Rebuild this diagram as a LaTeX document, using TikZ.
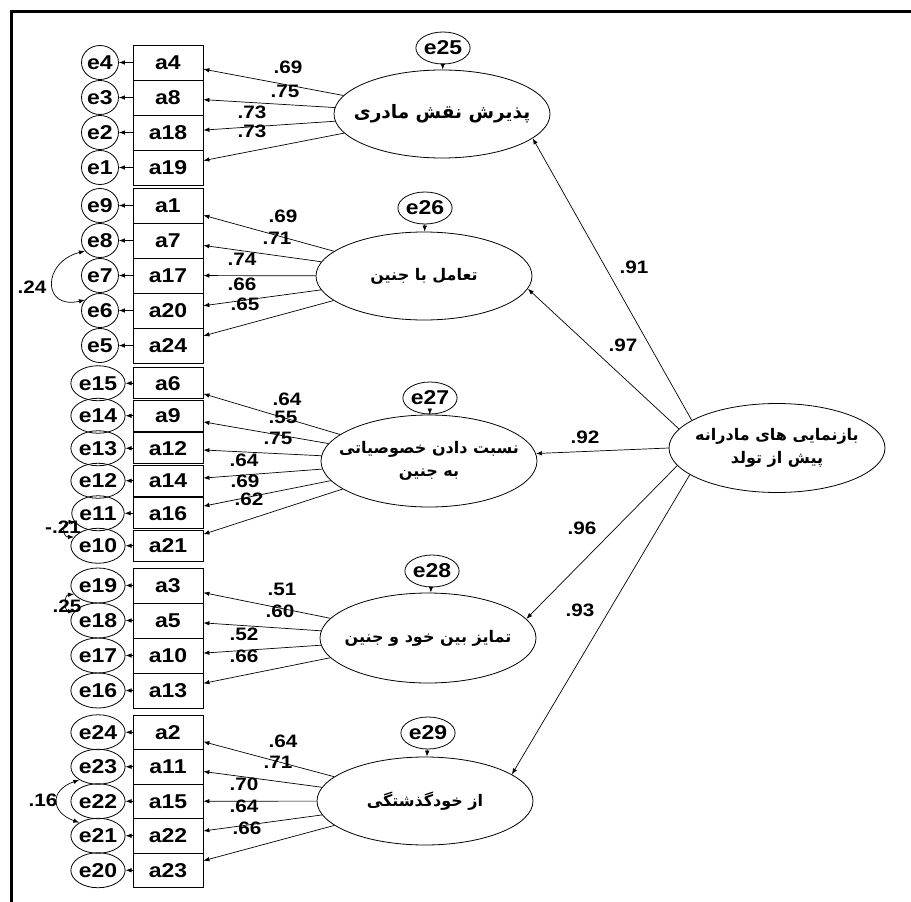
\documentclass[tikz,border=0pt]{standalone}
\usepackage{fontspec}
\usetikzlibrary{arrows.meta,shapes.geometric}
\TeXXeTstate=1
\newfontfamily\labfont[FakeStretch=1.15]{Liberation Sans}
\newfontfamily\fafont[Script=Arabic]{DejaVu Sans}
\begin{document}
\begin{tikzpicture}[x=1pt,y=-1pt,
  obs/.style={draw, rectangle, minimum width=70pt, minimum height=35pt, inner sep=0pt, line width=0.8pt,
    font=\labfont\bfseries\fontsize{20}{20}\selectfont},
  obsb/.style={obs, minimum height=31pt},
  err/.style={draw, ellipse, minimum width=37pt, minimum height=34pt, inner sep=0pt, line width=0.8pt,
    font=\labfont\bfseries\fontsize{20}{20}\selectfont},
  errb/.style={err, minimum width=39pt, minimum height=35pt},
  res/.style={draw, ellipse, minimum width=40pt, minimum height=32pt, inner sep=0pt, line width=0.8pt,
    font=\labfont\bfseries\fontsize{20}{20}\selectfont},
  lat/.style={draw, ellipse, minimum width=216pt, minimum height=88pt, inner sep=0pt, line width=0.8pt},
  fatext/.style={inner sep=0pt, align=center, font=\fafont\bfseries\fontsize{16}{23}\selectfont},
  fabig/.style={fatext, font=\fafont\bfseries\fontsize{18.5}{23}\selectfont},
  coef/.style={inner sep=0pt, font=\labfont\bfseries\fontsize{18}{18}\selectfont},
  arr/.style={-{Latex[length=6pt,width=4.5pt]}, line width=0.7pt},
  cov/.style={{Latex[length=6pt,width=4.5pt]}-{Latex[length=6pt,width=4.5pt]}, line width=0.7pt}
]
\fill[white] (0,0) rectangle (911,902);
\useasboundingbox (0,0) rectangle (911,902);
\draw[line width=3pt] (911,11.5) -- (11.5,11.5) -- (11.5,902);

% latent factors
\node[lat, label={[fabig]center:\beginR پذیرش نقش مادری\endR}] (F1) at (442,114) {};
\node[lat, label={[fatext]center:\beginR تعامل با جنین\endR}] (F2) at (424,276) {};
\node[lat, minimum height=92pt, label={[fatext]center:\beginR نسبت دادن خصوصیاتی\endR\\\beginR به جنین\endR}] (F3) at (429,461) {};
\node[lat, minimum height=90pt, label={[fatext]center:\beginR تمایز بین خود و جنین\endR}] (F4) at (428,638) {};
\node[lat, label={[fatext]center:\beginR از خودگذشتگی\endR}] (F5) at (425,801) {};
\node[lat, minimum height=89pt, label={[fatext]center:\beginR بازنمایی های مادرانه\endR\\\beginR پیش از تولد\endR}] (F0) at (777,448) {};

% residuals of factors
\node[res] (e25) at (443,48) {e25};
\node[res] (e26) at (425,208) {e26};
\node[res] (e27) at (430,398) {e27};
\node[res] (e28) at (432,571) {e28};
\node[res] (e29) at (428,733) {e29};
\foreach \r/\f in {e25/F1,e26/F2,e27/F3,e28/F4,e29/F5}{\draw[arr] (\r) -- (\f);}

% second order paths
\draw[arr] (F0.162) -- (F1.-15);
\draw[arr] (F0.169) -- (F2.-7);
\draw[arr] (F0.west) -- (F3.4);
\draw[arr] (F0.190) -- (F4.11);
\draw[arr] (F0.197) -- (F5.17);
\node[coef] (g1) at (634,267) {.91};
\node[coef] (g2) at (623,345) {.97};
\node[coef] (g3) at (585,437) {.92};
\node[coef] (g4) at (582,528) {.96};
\node[coef] (g5) at (580,610) {.93};

% indicators
\foreach \a/\e/\y in {a4/e4/62.5,a8/e3/97.5,a18/e2/132.5,a19/e1/167.5}{
  \node[obs] (\a) at (168,\y) {\a}; \node[err] (\e) at (100,\y) {\e};
  \draw[arr] (\a) -- (\e); \draw[arr] (F1) -- (\a);}
\foreach \a/\e/\y in {a1/e9/205.5,a7/e8/240.5,a17/e7/275.5,a20/e6/310.5,a24/e5/345.5}{
  \node[obs] (\a) at (168,\y) {\a}; \node[err] (\e) at (100,\y) {\e};
  \draw[arr] (\a) -- (\e); \draw[arr] (F2) -- (\a);}
\foreach \a/\e/\y in {a6/e15/383.25,a9/e14/415.75,a12/e13/448.25,a14/e12/480.75,a16/e11/513.25,a21/e10/545.75}{
  \node[obsb] (\a) at (168,\y) {\a}; \node[errb] (\e) at (98,\y) {\e};
  \draw[arr] (\a) -- (\e); \draw[arr] (F3) -- (\a);}
\foreach \a/\e/\y in {a3/e19/585.5,a5/e18/620.5,a10/e17/655.5,a13/e16/690.5}{
  \node[obs] (\a) at (168,\y) {\a}; \node[errb] (\e) at (98,\y) {\e};
  \draw[arr] (\a) -- (\e); \draw[arr] (F4) -- (\a);}
\foreach \a/\e/\y in {a2/e24/732.25,a11/e23/766.75,a15/e22/801.25,a22/e21/835.75,a23/e20/870.25}{
  \node[obs, minimum height=34.5pt] (\a) at (168,\y) {\a}; \node[errb] (\e) at (98,\y) {\e};
  \draw[arr] (\a) -- (\e); \draw[arr] (F5) -- (\a);}

% loadings
\foreach \n/\x/\y/\t in {c1/288/67/.69,c2/285/91/.75,c3/252/112/.73,c4/252/131/.73,
  c5/283/216/.69,c6/277/238/.71,c7/242/259/.74,c8/242/284/.66,c9/245/304/.65,
  c10/287/399/.64,c11/283/417/.55,c12/278/438/.75,c13/244/460/.64,c14/245/481/.69,c15/249/499/.62,
  c16/282/589/.51,c17/280/611/.60,c18/244/634/.52,c19/244/656/.66,
  c20/283/741/.64,c21/278/762/.71,c22/244/784/.70,c23/244/806/.64,c24/247/828/.66}{
  \node[coef] (\n) at (\x,\y) {\t};}

% covariances
\draw[cov] (e8.215) .. controls (42,262) and (42,310) .. (e6.145);
\node[coef] (k1) at (32,287) {.24};
\draw[cov] (e11.200) .. controls (62,522) and (62,537) .. (e10.160);
\node[coef] (k2) at (63,527) {-.21};
\draw[cov] (e19.200) .. controls (64,595) and (64,611) .. (e18.160);
\node[coef] (k3) at (67,606) {.25};
\draw[cov] (e23.215) .. controls (50,790) and (50,812) .. (e21.145);
\node[coef] (k4) at (43,800) {.16};
\end{tikzpicture}
\end{document}
